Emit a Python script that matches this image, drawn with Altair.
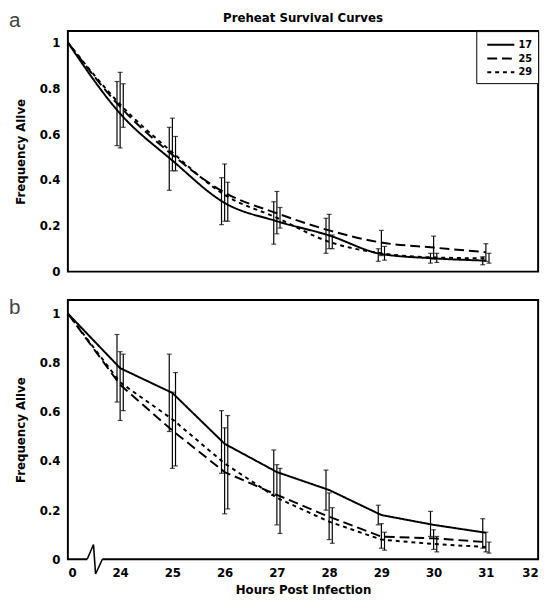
import altair as alt
import pandas as pd

hours = [0, 24, 25, 26, 27, 28, 29, 30, 31]
series = ["17", "25", "29"]

# Panel a: means (hour 0 .. 31)
a_17 = [1.0, 0.69, 0.485, 0.30, 0.22, 0.158, 0.077, 0.058, 0.048]
a_25 = [1.0, 0.72, 0.51, 0.345, 0.255, 0.18, 0.127, 0.105, 0.085]
a_29 = [1.0, 0.73, 0.52, 0.335, 0.235, 0.13, 0.08, 0.062, 0.058]
# Panel a: error bar limits (hours 24 .. 31)
a_17_lo = [0.55, 0.355, 0.205, 0.12, 0.08, 0.045, 0.037, 0.03]
a_17_hi = [0.83, 0.63, 0.41, 0.305, 0.233, 0.10, 0.08, 0.065]
a_25_lo = [0.54, 0.44, 0.22, 0.165, 0.10, 0.07, 0.055, 0.045]
a_25_hi = [0.87, 0.67, 0.47, 0.35, 0.25, 0.18, 0.155, 0.122]
a_29_lo = [0.63, 0.44, 0.22, 0.19, 0.10, 0.05, 0.04, 0.037]
a_29_hi = [0.82, 0.59, 0.39, 0.28, 0.16, 0.11, 0.08, 0.08]

# Panel b: means
b_17 = [1.0, 0.778, 0.677, 0.47, 0.355, 0.282, 0.18, 0.14, 0.108]
b_25 = [1.0, 0.71, 0.524, 0.355, 0.262, 0.173, 0.092, 0.085, 0.07]
b_29 = [1.0, 0.72, 0.57, 0.39, 0.25, 0.153, 0.08, 0.062, 0.05]
# Panel b: error bar limits
b_17_lo = [0.64, 0.52, 0.35, 0.26, 0.20, 0.14, 0.093, 0.045]
b_17_hi = [0.915, 0.835, 0.605, 0.445, 0.363, 0.22, 0.195, 0.165]
b_25_lo = [0.565, 0.37, 0.185, 0.14, 0.08, 0.045, 0.04, 0.03]
b_25_hi = [0.845, 0.68, 0.535, 0.385, 0.27, 0.145, 0.12, 0.11]
b_29_lo = [0.605, 0.38, 0.205, 0.105, 0.065, 0.037, 0.03, 0.025]
b_29_hi = [0.835, 0.76, 0.585, 0.37, 0.21, 0.11, 0.093, 0.07]

# axis break symbol (panel b), in data units
break_x = [23.37, 23.49, 23.53, 23.66]
break_y = [0.0, 0.06, -0.06, 0.0]

title_text = ["Preheat Survival Curves"]
FONT = "DejaVu Sans"
W = 479


def build(means, los, his):
    rows = []
    for s, m, lo, hi in zip(series, means, los, his):
        for i, h in enumerate(hours):
            rows.append({
                "hour": h,
                "series": s,
                "mean": m[i],
                "lo": None if i == 0 else lo[i - 1],
                "hi": None if i == 0 else hi[i - 1],
            })
    return pd.DataFrame(rows)


df_a = build([a_17, a_25, a_29], [a_17_lo, a_25_lo, a_29_lo], [a_17_hi, a_25_hi, a_29_hi])
df_b = build([b_17, b_25, b_29], [b_17_lo, b_25_lo, b_29_lo], [b_17_hi, b_25_hi, b_29_hi])

dash_scale = alt.Scale(domain=series, range=[[1, 0], [10, 5], [4, 4]])


def panel(df, ymax, height, show_x, letter, letter_y, legend, interp, breaks=False, title=None):
    xs = alt.Scale(domain=[23, 32], nice=False, zero=False)
    ys = alt.Scale(domain=[0, ymax], nice=False, zero=False)
    if show_x:
        xaxis = alt.Axis(values=list(range(23, 33)),
                         labelExpr="datum.value == 23 ? '0' : datum.value",
                         title="Hours Post Infection", ticks=False, domain=False,
                         grid=False, labelPadding=9, titlePadding=6)
    else:
        xaxis = None
    yaxis = alt.Axis(values=[0, 0.2, 0.4, 0.6, 0.8, 1.0], format="~g",
                     title="Frequency Alive", ticks=False, domain=False,
                     grid=False, labelPadding=8, titlePadding=12)
    base = alt.Chart(df).transform_calculate(
        pos="datum.hour == 0 ? 23 : datum.hour",
        bx="(datum.hour == 0 ? 23 : datum.hour) + (datum.series == '17' ? -0.06 : (datum.series == '25' ? 0 : 0.06))",
    )
    lines = base.mark_line(color="black", strokeWidth=2, interpolate=interp).encode(
        x=alt.X("pos:Q", scale=xs, axis=xaxis),
        y=alt.Y("mean:Q", scale=ys, axis=yaxis),
        strokeDash=alt.StrokeDash("series:N", scale=dash_scale, legend=legend),
        detail="series:N",
    )
    eb = base.transform_filter("datum.hour > 0")
    rules = eb.mark_rule(color="black", strokeWidth=1.2).encode(
        x=alt.X("bx:Q", scale=xs, axis=xaxis),
        y=alt.Y("lo:Q", scale=ys, axis=yaxis),
        y2="hi:Q",
    )
    caps = eb.transform_fold(["lo", "hi"], as_=["end", "val"]).mark_tick(
        color="black", orient="horizontal", size=5, thickness=1.2
    ).encode(
        x=alt.X("bx:Q", scale=xs, axis=xaxis),
        y=alt.Y("val:Q", scale=ys, axis=yaxis),
    )
    lab = alt.Chart(pd.DataFrame({"t": [letter]})).mark_text(
        font="Liberation Sans", fontSize=21, color="#444", align="left", baseline="top"
    ).encode(text="t:N", x=alt.value(-60), y=alt.value(letter_y))
    layers = [lines, rules, caps, lab]
    if title is not None:
        ttl = alt.Chart(pd.DataFrame({"t": title})).mark_text(
            font=FONT, fontSize=12, fontWeight="bold", color="black", align="center", baseline="top"
        ).encode(text="t:N", x=alt.value(W / 2), y=alt.value(-18))
        layers.append(ttl)
    if breaks:
        bdf = pd.DataFrame({"bx": break_x, "by": break_y, "o": [0, 1, 2, 3]})
        cover = alt.Chart(pd.DataFrame({"x1": [break_x[0]], "x2": [break_x[-1]], "y": [0]})).mark_rule(
            color="white", strokeWidth=5
        ).encode(x=alt.X("x1:Q", scale=xs, axis=xaxis), x2="x2:Q", y=alt.Y("y:Q", scale=ys, axis=yaxis))
        zig = alt.Chart(bdf).mark_line(color="black", strokeWidth=1.6).encode(
            x=alt.X("bx:Q", scale=xs, axis=xaxis), y=alt.Y("by:Q", scale=ys, axis=yaxis), order="o:Q"
        )
        layers += [cover, zig]
    return alt.layer(*layers).properties(width=W, height=height)


legend_a = alt.Legend(title=None, orient="top-right", offset=0, strokeColor="black",
                      fillColor="white", padding=6, symbolType="M-2,0L2,0", symbolSize=190,
                      symbolStrokeWidth=2, symbolStrokeColor="black", labelFontSize=10,
                      labelFontWeight="bold", labelFont=FONT, rowPadding=1, labelOffset=10,
                      cornerRadius=0, symbolOffset=11)

top = panel(df_a, 1.05, 245, False, "a", -21, legend_a, "monotone", title=title_text)
bottom = panel(df_b, 1.055, 264, True, "b", -3, None, "linear", breaks=True)

chart = alt.vconcat(top, bottom, spacing=18).resolve_scale(
    strokeDash="independent"
).resolve_legend(strokeDash="independent").configure(
    padding={"left": 0, "top": -4, "right": 5, "bottom": 0}
).configure_view(
    stroke="black", strokeWidth=2
).configure_axis(
    labelFont=FONT, labelFontSize=12, labelFontWeight="bold", labelColor="black",
    titleFont=FONT, titleFontSize=12, titleFontWeight="bold", titleColor="black"
)

chart.save("out.html", embed_options={"renderer": "svg", "actions": False})
